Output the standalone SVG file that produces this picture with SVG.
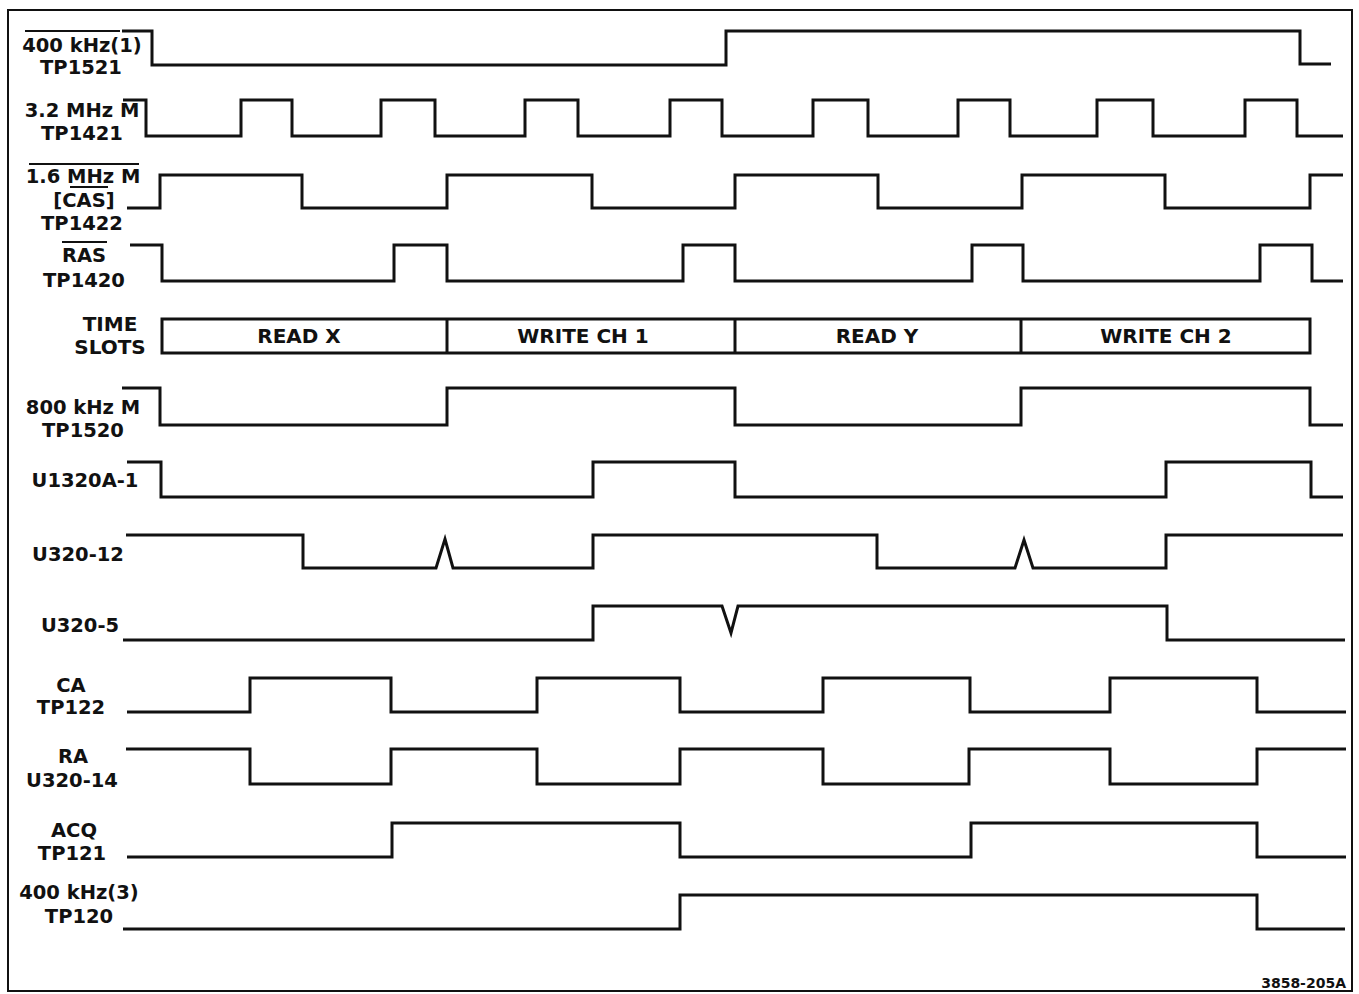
<svg xmlns="http://www.w3.org/2000/svg" width="1359" height="994" viewBox="0 0 1359 994">
<style>
.bg{fill:#fff}
.frame{fill:none;stroke:#111;stroke-width:2}
.w{fill:none;stroke:#111;stroke-width:3;stroke-linejoin:miter;stroke-linecap:butt}
.ol{fill:none;stroke:#111;stroke-width:2}
.lbl{font-family:"DejaVu Sans","Liberation Sans",sans-serif;font-weight:bold;font-size:19.5px;fill:#111;text-anchor:middle}
.slot{font-family:"DejaVu Sans","Liberation Sans",sans-serif;font-weight:bold;font-size:20px;fill:#111;text-anchor:middle}
.ref{font-family:"DejaVu Sans","Liberation Sans",sans-serif;font-weight:bold;font-size:14px;fill:#111;text-anchor:end}
</style>
<rect class="bg" x="0" y="0" width="1359" height="994"/>
<rect class="frame" x="8" y="10" width="1344" height="981"/>

<g id="sig-400khz1">
<text class="lbl" x="82" y="52">400 kHz(1)</text>
<text class="lbl" x="81" y="74">TP1521</text>
<line class="ol" x1="25" y1="31" x2="120" y2="31"/>
<path class="w" d="M122,31 H152 V65 H726 V31 H1300 V64 H1331"/>
</g>

<g id="sig-3_2mhz">
<text class="lbl" x="82" y="117">3.2 MHz M</text>
<text class="lbl" x="82" y="140">TP1421</text>
<path class="w" d="M123,100 H146 V136 H241 V100 H292 V136 H381 V100 H435 V136 H525 V100 H578 V136 H670 V100 H722 V136 H813 V100 H868 V136 H958 V100 H1010 V136 H1097 V100 H1153 V136 H1245 V100 H1297 V136 H1343"/>
</g>

<g id="sig-1_6mhz">
<text class="lbl" x="83" y="183">1.6 MHz M</text>
<text class="lbl" x="84" y="207">[CAS]</text>
<text class="lbl" x="82" y="230">TP1422</text>
<line class="ol" x1="29" y1="164" x2="139" y2="164"/>
<line class="ol" x1="70" y1="187" x2="108" y2="187"/>
<path class="w" d="M127,208 H160 V175 H302 V208 H447 V175 H592 V208 H735 V175 H878 V208 H1022 V175 H1165 V208 H1310 V175 H1343"/>
</g>

<g id="sig-ras">
<text class="lbl" x="84" y="262">RAS</text>
<text class="lbl" x="84" y="287">TP1420</text>
<line class="ol" x1="62" y1="242" x2="107" y2="242"/>
<path class="w" d="M130,245 H162 V281 H394 V245 H447 V281 H683 V245 H735 V281 H972 V245 H1023 V281 H1260 V245 H1312 V281 H1343"/>
</g>

<g id="time-slots">
<text class="slot" x="110" y="331">TIME</text>
<text class="slot" x="110" y="354">SLOTS</text>
<rect class="w" x="162" y="319" width="1148" height="34"/>
<line class="w" x1="447" y1="319" x2="447" y2="353"/>
<line class="w" x1="735" y1="319" x2="735" y2="353"/>
<line class="w" x1="1021" y1="319" x2="1021" y2="353"/>
<text class="slot" x="299" y="343">READ X</text>
<text class="slot" x="583" y="343">WRITE CH 1</text>
<text class="slot" x="877" y="343">READ Y</text>
<text class="slot" x="1166" y="343">WRITE CH 2</text>
</g>

<g id="sig-800khz">
<text class="lbl" x="83" y="414">800 kHz M</text>
<text class="lbl" x="83" y="437">TP1520</text>
<path class="w" d="M122,388 H160 V425 H447 V388 H735 V425 H1021 V388 H1310 V425 H1343"/>
</g>

<g id="sig-u1320a1">
<text class="lbl" x="85" y="487">U1320A-1</text>
<path class="w" d="M127,462 H161 V497 H593 V462 H735 V497 H1166 V462 H1311 V497 H1343"/>
</g>

<g id="sig-u320-12">
<text class="lbl" x="78" y="561">U320-12</text>
<path class="w" d="M126,535 H303 V568 H436 L445,539 L453,568 H593 V535 H877 V568 H1015 L1024,540 L1033,568 H1166 V535 H1343"/>
</g>

<g id="sig-u320-5">
<text class="lbl" x="80" y="632">U320-5</text>
<path class="w" d="M123,640 H593 V606 H722 L731,633 L738,606 H1167 V640 H1345"/>
</g>

<g id="sig-ca">
<text class="lbl" x="71" y="692">CA</text>
<text class="lbl" x="71" y="714">TP122</text>
<path class="w" d="M127,712 H250 V678 H391 V712 H537 V678 H680 V712 H823 V678 H970 V712 H1110 V678 H1257 V712 H1346"/>
</g>

<g id="sig-ra">
<text class="lbl" x="73" y="763">RA</text>
<text class="lbl" x="72" y="787">U320-14</text>
<path class="w" d="M126,749 H250 V784 H391 V749 H537 V784 H680 V749 H823 V784 H969 V749 H1110 V784 H1257 V749 H1346"/>
</g>

<g id="sig-acq">
<text class="lbl" x="74" y="837">ACQ</text>
<text class="lbl" x="72" y="860">TP121</text>
<path class="w" d="M127,857 H392 V823 H680 V857 H971 V823 H1257 V857 H1346"/>
</g>

<g id="sig-400khz3">
<text class="lbl" x="79" y="899">400 kHz(3)</text>
<text class="lbl" x="79" y="923">TP120</text>
<path class="w" d="M123,929 H680 V895 H1257 V929 H1345"/>
</g>

<g id="connectors"></g>

<text class="ref" x="1346" y="988">3858-205A</text>
</svg>
